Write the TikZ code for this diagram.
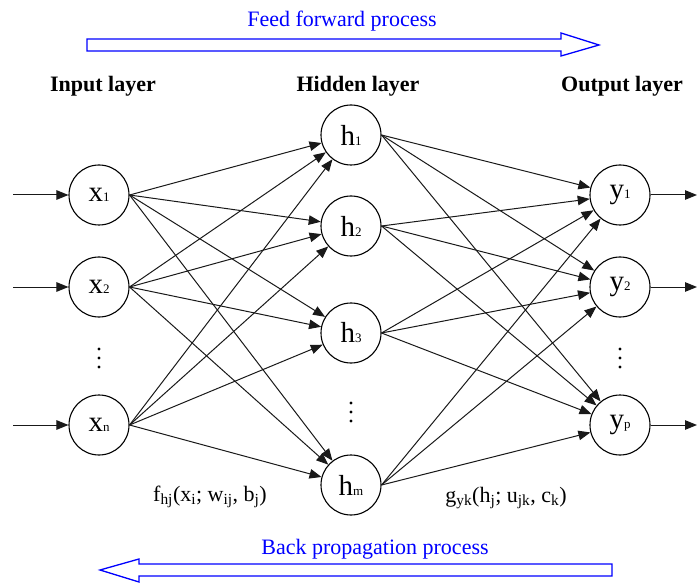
\documentclass[tikz,border=0pt]{standalone}
\usepackage{fontspec}
\setmainfont{Liberation Serif}
\usetikzlibrary{arrows.meta}

% node label: big letter with a small index on its baseline
\newcommand{\nlab}[2]{{\fontsize{29}{29}\selectfont #1}{\fontsize{13}{13}\selectfont #2}}

\begin{document}
\begin{tikzpicture}[x=1pt,y=-1pt,>={Triangle[length=12pt,width=9.5pt]},
  neuron/.style={draw,circle,line width=1.1pt,minimum size=60pt,inner sep=0pt},
  link/.style={->,line width=1pt,black!90},
  layer/.style={font=\fontsize{22}{22}\selectfont\bfseries,anchor=base},
  flowtext/.style={font=\fontsize{22}{22}\selectfont,text=blue,anchor=base},
  blockarrow/.style={draw=blue,line width=1.3pt,line join=miter}]
  \useasboundingbox (0,0) rectangle (697,583);
  % layers
  \node[neuron] (x1) at (99,195) {\nlab{x}{1}};
  \node[neuron] (x2) at (99,287) {\nlab{x}{2}};
  \node[neuron] (xn) at (99,425) {\nlab{x}{n}};
  \node[neuron] (h1) at (351,135) {\nlab{h}{1}};
  \node[neuron] (h2) at (351,226) {\nlab{h}{2}};
  \node[neuron] (h3) at (351,333) {\nlab{h}{3}};
  \node[neuron] (hm) at (351,485) {\nlab{h}{m}};
  \node[neuron] (y1) at (620,195) {\nlab{y}{1}};
  \node[neuron] (y2) at (620,287) {\nlab{y}{2}};
  \node[neuron] (yp) at (620,425) {\nlab{y}{p}};
  % vertical dots
  \foreach \c/\m in {99/358,351/412,620/358}
    \foreach \d in {-9,0,9}
      \fill (\c,\d+\m) circle (1.7pt);
  % layer titles
  \node[layer] (tin) at (103,92) {Input layer};
  \node[layer] (thid) at (358,92) {Hidden layer};
  \node[layer] (tout) at (622,92) {Output layer};
  % inputs and outputs
  \foreach \n/\y in {x1/195,x2/287,xn/425}
    \draw[link] (13,\y) coordinate (in-\n) -- (\n);
  \foreach \n/\y in {y1/195,y2/287,yp/425}
    \draw[link] (\n) -- (697,\y) coordinate (out-\n);
  % connections
  \foreach \s in {x1,x2,xn}
    \foreach \t in {h1,h2,h3,hm}
      \draw[link] (\s.east) -- (\t);
  \foreach \s in {h1,h2,h3,hm}
    \foreach \t in {y1,y2,yp}
      \draw[link] (\s.east) -- (\t);
  % functions
  \node[font=\fontsize{22}{22}\selectfont,anchor=base] (fh) at (210,501)
    {f\textsubscript{hj}(x\textsubscript{i}; w\textsubscript{ij}, b\textsubscript{j})};
  \node[font=\fontsize{22}{22}\selectfont,anchor=base] (gy) at (506,502)
    {g\textsubscript{yk}(h\textsubscript{j}; u\textsubscript{jk}, c\textsubscript{k})};
  % feed forward / back propagation
  \node[flowtext] (ff) at (342,27) {Feed forward process};
  \draw[blockarrow] (87,39) -- (561,39) -- (561,33) -- (599,45)
    -- (561,56) -- (561,51) -- (87,51) -- cycle;
  \node[flowtext] (bp) at (375,554) {Back propagation process};
  \draw[blockarrow] (612,564) -- (139,564) -- (139,559) -- (100,570)
    -- (139,582) -- (139,576) -- (612,576) -- cycle;
\end{tikzpicture}
\end{document}
